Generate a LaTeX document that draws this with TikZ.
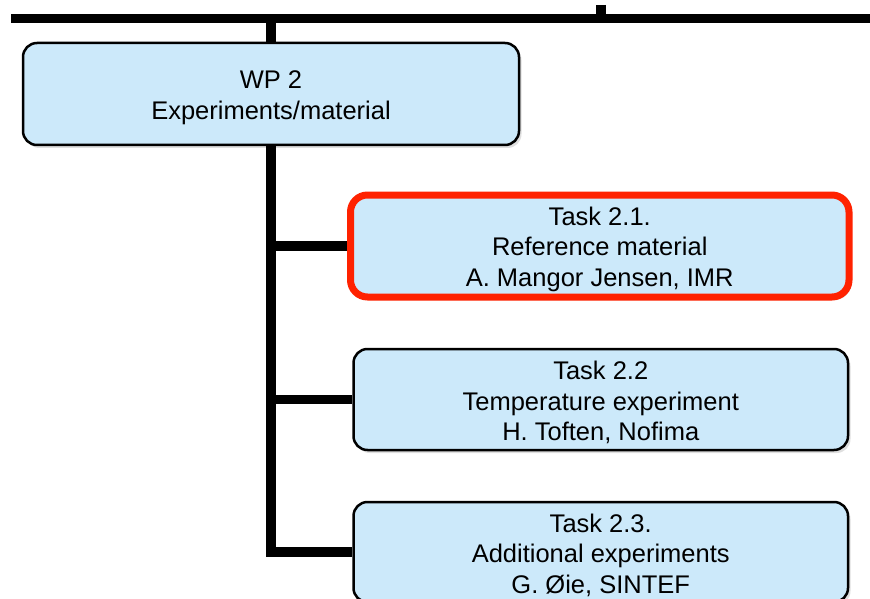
\documentclass[tikz,border=0pt]{standalone}
\usepackage{fontspec}
\setmainfont{Liberation Sans}
\usetikzlibrary{shadows}
\definecolor{boxfill}{RGB}{204,233,250}
\definecolor{hired}{RGB}{255,34,0}
\newcommand{\topstrut}{\rule{0pt}{25pt}}
\begin{document}
\begin{tikzpicture}[x=1pt,y=-1pt,
  box/.style={draw=black, line width=2.5pt, fill=boxfill, rounded corners=14pt,
    align=center, inner sep=0pt, font=\fontsize{25.5}{30.5}\selectfont,
    drop shadow={opacity=0.25, shadow xshift=2.5pt, shadow yshift=-3pt}},
  hibox/.style={box, draw=hired, line width=7pt, rounded corners=17pt},
  conn/.style={draw=black, line width=9.5pt},
  bar/.style={draw=black, line width=9pt}]
\useasboundingbox (0,0) rectangle (870,599);
\clip (0,0) rectangle (870,599);
\fill[white] (0,0) rectangle (870,599);

\coordinate (barL) at (11,18.5);
\coordinate (barR) at (870,18.5);
\coordinate (tickTop) at (601,5);
\coordinate (tickBot) at (601,18.5);

\node[box, minimum width=496pt, minimum height=102pt] (wp) at (271,94)
  {\topstrut WP 2\\Experiments/material};
\node[hibox, minimum width=498.5pt, minimum height=102pt] (t1) at (599.75,246)
  {\topstrut Task 2.1.\\Reference material\\A. Mangor Jensen, IMR};
\node[box, minimum width=494.5pt, minimum height=101pt] (t2) at (600.75,399.5)
  {\topstrut Task 2.2\\Temperature experiment\\H. Toften, Nofima};
\node[box, minimum width=494.5pt, minimum height=100pt] (t3) at (600.75,552)
  {\topstrut Task 2.3.\\Additional experiments\\G. Øie, SINTEF};

\draw[bar] (barL) -- (barR);
\draw[line width=10pt] (tickTop) -- (tickBot);
\draw[conn] (wp.north |- barL) -- (wp.north);
\draw[conn, line join=miter] (wp.south) |- (t3.west);
\draw[conn] (wp.south |- t1.west) -- (t1.west);
\draw[conn] (wp.south |- t2.west) -- (t2.west);
\end{tikzpicture}
\end{document}
